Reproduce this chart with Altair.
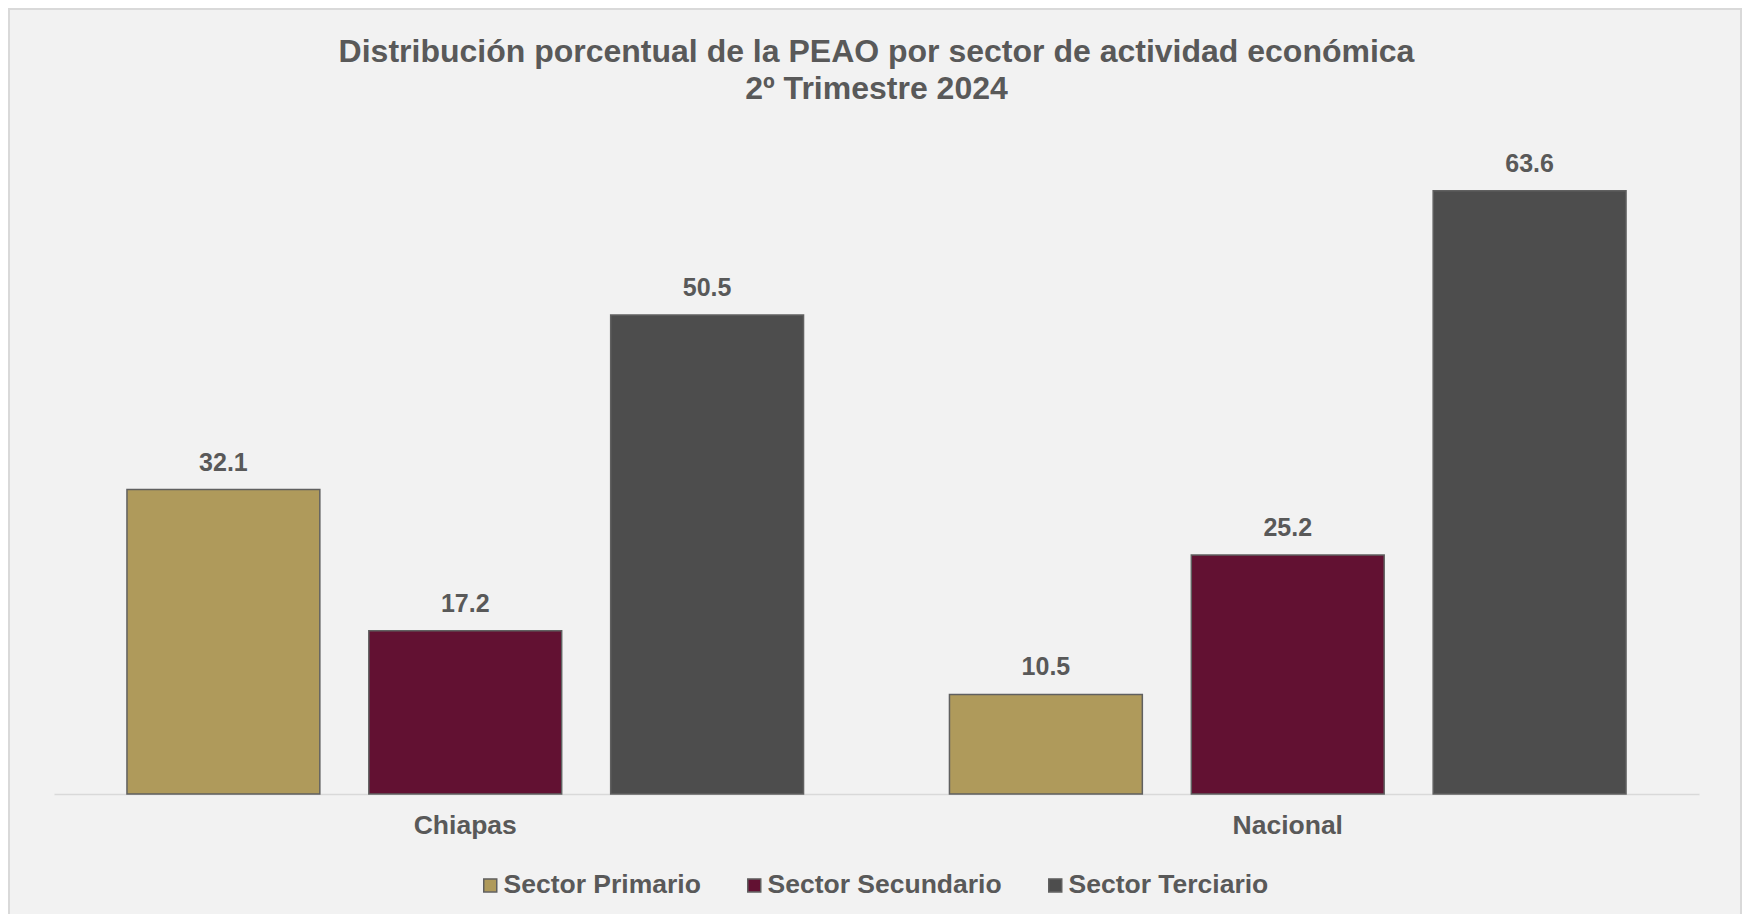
import altair as alt
import pandas as pd

regions = ["Chiapas", "Nacional"]
sectors = ["Sector Primario", "Sector Secundario", "Sector Terciario"]
chiapas_values = [32.1, 17.2, 50.5]
nacional_values = [10.5, 25.2, 63.6]
colors = ["#af9a5b", "#621132", "#4d4d4d"]

title_lines = ["Distribución porcentual de la PEAO por sector de actividad económica",
               "2º Trimestre 2024"]

rows = []
for s, v in zip(sectors, chiapas_values):
    rows.append({"region": "Chiapas", "sector": s, "value": v})
for s, v in zip(sectors, nacional_values):
    rows.append({"region": "Nacional", "sector": s, "value": v})
df = pd.DataFrame(rows)

FONT = "Liberation Sans"
TXT = "#595959"

W, H = 1645, 664
PAD = {"left": 46, "top": 122, "right": 43, "bottom": 120}

x = alt.X("region:N", sort=regions,
          scale=alt.Scale(paddingInner=0, paddingOuter=0),
          axis=alt.Axis(title=None, labelAngle=0, ticks=False, domain=True,
                        domainColor="#d9d9d9", domainWidth=1.5,
                        labelFont=FONT, labelFontSize=26.5, labelFontWeight="bold",
                        labelColor=TXT, labelPadding=18))
xoff = alt.XOffset("sector:N", sort=sectors,
                   scale=alt.Scale(paddingInner=0.2025, paddingOuter=0.3017))
y = alt.Y("value:Q", scale=alt.Scale(domain=[0, 70]), axis=None)

base = alt.Chart(df)

bars = base.mark_bar(stroke="#606060", strokeWidth=1.5).encode(
    x=x, xOffset=xoff, y=y,
    color=alt.Color("sector:N", sort=sectors,
                    scale=alt.Scale(domain=sectors, range=colors),
                    legend=alt.Legend(title=None, orient="none", legendX=423, legendY=742,
                                      direction="horizontal", symbolType="square",
                                      symbolSize=169, symbolStrokeColor="#606060",
                                      symbolStrokeWidth=1.5, labelFont=FONT,
                                      labelFontSize=26.5, labelFontWeight="bold",
                                      labelColor=TXT, columnPadding=40, labelOffset=0,
                                      labelLimit=500, padding=0)),
)

labels = base.mark_text(font=FONT, fontSize=25, fontWeight="bold", color=TXT,
                        baseline="middle", dy=-27).encode(
    x=x, xOffset=xoff, y=y, text=alt.Text("value:Q", format=".1f"))

border = alt.Chart(alt.Data(values=[{"a": 1}])).mark_rect(
    fill=None, stroke="#d9d9d9", strokeWidth=2).encode(
    x=alt.value(-PAD["left"] + 1), x2=alt.value(W + PAD["right"] - 1),
    y=alt.value(-PAD["top"] + 1), y2=alt.value(H + PAD["bottom"] + 20))

chart = alt.layer(border, bars, labels).properties(
    width=W, height=H,
    autosize=alt.AutoSizeParams(type="none"),
    padding=PAD,
    background="#f2f2f2",
    title=alt.TitleParams(text=title_lines, font=FONT, fontSize=32, fontWeight="bold",
                          color=TXT, anchor="middle", frame="group", lineHeight=37,
                          offset=0, dy=98),
).configure_view(stroke=None)

chart.save("out.html", embed_options={"renderer": "svg", "actions": False})
